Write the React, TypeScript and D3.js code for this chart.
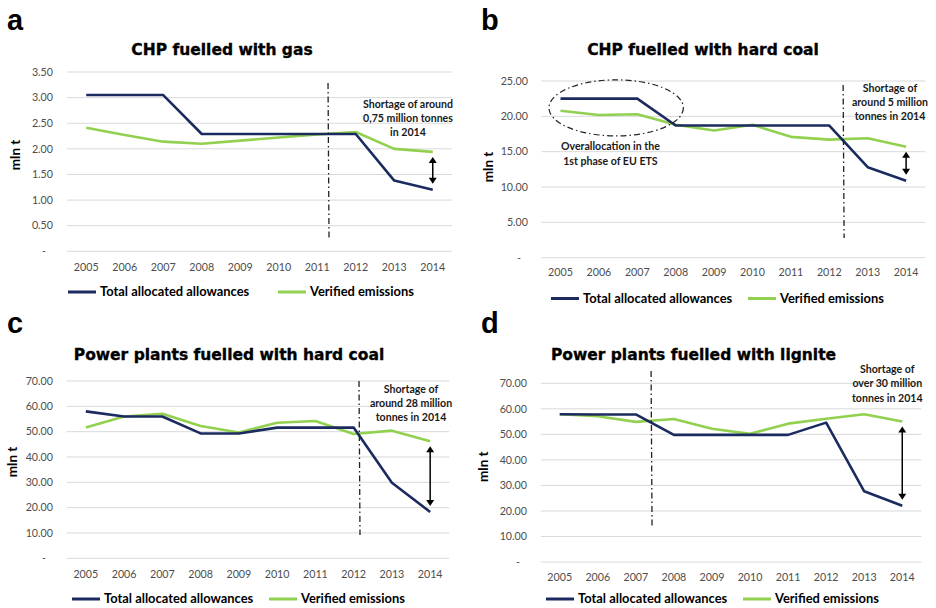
import React from 'react';
import * as d3 from 'd3';

const years = ['2005', '2006', '2007', '2008', '2009', '2010', '2011', '2012', '2013', '2014'];

const gasAllocated = [3.05, 3.05, 3.05, 2.29, 2.29, 2.29, 2.29, 2.29, 1.38, 1.2];
const gasVerified = [2.41, 2.27, 2.14, 2.1, 2.16, 2.22, 2.28, 2.33, 2.0, 1.94];
const chpCoalAllocated = [22.5, 22.5, 22.5, 18.7, 18.7, 18.7, 18.7, 18.7, 12.8, 10.9];
const chpCoalVerified = [20.8, 20.2, 20.3, 18.8, 18.0, 18.8, 17.1, 16.7, 16.9, 15.7];
const ppCoalAllocated = [58.0, 56.0, 56.0, 49.3, 49.3, 51.6, 51.6, 51.6, 29.8, 18.3];
const ppCoalVerified = [51.6, 56.0, 57.1, 52.2, 49.7, 53.5, 54.2, 49.1, 50.4, 46.2];
const ligniteAllocated = [57.9, 57.8, 57.8, 49.8, 49.8, 49.8, 49.8, 54.6, 27.7, 22.0];
const ligniteVerified = [57.9, 57.1, 54.9, 56.0, 52.2, 50.2, 54.2, 56.1, 57.9, 55.0];

const seriesNames = ['Total allocated allowances', 'Verified emissions'];
const panelTitles = [
  'CHP fuelled with gas',
  'CHP fuelled with hard coal',
  'Power plants fuelled with hard coal',
  'Power plants fuelled with lignite',
];
const panelLetters = ['a', 'b', 'c', 'd'];
const yAxisTitle = 'mln t';
const annotations = [
  ['Shortage of around', '0,75 million tonnes', 'in 2014'],
  ['Shortage of', 'around 5 million', 'tonnes in 2014'],
  ['Shortage of', 'around 28 million', 'tonnes in 2014'],
  ['Shortage of', 'over 30 million', 'tonnes in 2014'],
];
const overallocationText = ['Overallocation in the', '1st phase of EU ETS'];
// phase marker position: year index + fraction of a band
const markerYearIdx = [6, 7, 7, 2];
const markerFrac = [0.28, 0.36, 0.14, 0.4];
const yMaxes = [3.5, 25, 70, 70];
const ySteps = [0.5, 5, 10, 10];

const BLUE = '#1c2b5f';
const GREEN = '#92d050';
const GRID = '#d9d9d9';
const TICK = '#4d4d4d';
const CAL = 'Lato, "Open Sans", sans-serif';

const layouts = [
  { lx: 7, ly: 30, tx: 222, ty: 54.5, x0: 67, x1: 452, yTop: 72, yBot: 251.3, tickR: 53, xlY: 270.5, ylX: 15, ylY: 155, legY: 292, legB: 68, legG: 278, mTop: 83, mBot: 240, ax: 408, ay: 104 },
  { lx: 481, ly: 30, tx: 703, ty: 54.5, x0: 541.3, x1: 925.3, yTop: 81, yBot: 257.7, tickR: 528, xlY: 276, ylX: 488, ylY: 167, legY: 298.5, legB: 551, legG: 748, mTop: 85, mBot: 238, ax: 890, ay: 88 },
  { lx: 7, ly: 333, tx: 229, ty: 359.5, x0: 66.7, x1: 449.3, yTop: 381, yBot: 558.3, tickR: 53, xlY: 578, ylX: 12, ylY: 462, legY: 599, legB: 72, legG: 269, mTop: 381, mBot: 535, ax: 411, ay: 389 },
  { lx: 481, ly: 333, tx: 693.5, ty: 359.5, x0: 540.7, x1: 921.3, yTop: 383.3, yBot: 562, tickR: 527, xlY: 581.3, ylX: 483, ylY: 466.7, legY: 599, legB: 546, legG: 743, mTop: 371, mBot: 528, ax: 887.3, ay: 369.3 },
];

const allocatedSets = [gasAllocated, chpCoalAllocated, ppCoalAllocated, ligniteAllocated];
const verifiedSets = [gasVerified, chpCoalVerified, ppCoalVerified, ligniteVerified];

function Arrow({ x, y1, y2 }: { x: number; y1: number; y2: number }) {
  const h = 6, w = 4;
  return (
    <g>
      <line x1={x} x2={x} y1={y1 + h - 1} y2={y2 - h + 1} stroke="#000" strokeWidth={1.5} />
      <path d={`M${x},${y1} L${x - w},${y1 + h} L${x + w},${y1 + h} Z`} fill="#000" />
      <path d={`M${x},${y2} L${x - w},${y2 - h} L${x + w},${y2 - h} Z`} fill="#000" />
    </g>
  );
}

function Panel({ i }: { i: number }) {
  const L = layouts[i];
  const alloc = allocatedSets[i];
  const ver = verifiedSets[i];
  const x = d3.scaleBand<string>().domain(years).range([L.x0, L.x1]).padding(0);
  const bw = x.bandwidth();
  const cx = (yr: string) => (x(yr) as number) + bw / 2;
  const y = d3.scaleLinear().domain([0, yMaxes[i]]).range([L.yBot, L.yTop]);
  const ticks = d3.range(0, yMaxes[i] + ySteps[i] / 2, ySteps[i]);
  const line = d3
    .line<number>()
    .x((_, k) => cx(years[k]))
    .y((v) => y(v))
    .curve(d3.curveLinear);
  const mx = cx(years[markerYearIdx[i]]) + markerFrac[i] * bw;
  const last = years.length - 1;
  const arrowX = cx(years[last]);
  return (
    <g>
      <text x={L.lx} y={L.ly} fontFamily="'Liberation Sans', Arial, sans-serif" fontWeight="bold" fontSize={29} fill="#000">
        {panelLetters[i]}
      </text>
      <text
        x={L.tx}
        y={L.ty}
        textAnchor="middle"
        fontFamily="'DejaVu Sans', sans-serif"
        fontWeight="bold"
        fontSize={15.5}
        fill="#000"
        stroke="#000"
        strokeWidth={0.35}
      >
        {panelTitles[i]}
      </text>
      {ticks.map((t) => (
        <g key={t}>
          <line x1={L.x0} x2={L.x1} y1={y(t)} y2={y(t)} stroke={GRID} strokeWidth={1} />
          <text
            x={t === 0 ? L.tickR - 7 : L.tickR}
            y={y(t) + 3.8}
            textAnchor="end"
            fontFamily={CAL}
            fontSize={10.7}
            fill={TICK}
          >
            {t === 0 ? '-' : t.toFixed(2)}
          </text>
        </g>
      ))}
      {years.map((yr) => (
        <text key={yr} x={cx(yr)} y={L.xlY} textAnchor="middle" fontFamily={CAL} fontSize={10.7} fill={TICK}>
          {yr}
        </text>
      ))}
      <text
        transform={`translate(${L.ylX + 4.5},${L.ylY}) rotate(-90)`}
        textAnchor="middle"
        fontFamily={CAL}
        fontWeight="bold"
        fontSize={13.5}
        fill="#000"
      >
        {yAxisTitle}
      </text>
      <path d={line(ver) || ''} fill="none" stroke={GREEN} strokeWidth={2.6} strokeLinejoin="round" />
      <path d={line(alloc) || ''} fill="none" stroke={BLUE} strokeWidth={2.6} strokeLinejoin="round" />
      <line x1={mx} x2={mx + 1} y1={L.mTop} y2={L.mBot} stroke="#222" strokeWidth={1.3} strokeDasharray="6,3,1.5,3" />
      {annotations[i].map((s, k) => (
        <text key={k} x={L.ax} y={L.ay + k * 14.3 + 3.6} textAnchor="middle" fontFamily={CAL} fontWeight="bold" fontSize={10.6} fill="#1a1a1a">
          {s}
        </text>
      ))}
      <Arrow x={arrowX} y1={y(ver[last]) + 5} y2={y(alloc[last]) - 6} />
      {i === 1 && (
        <g>
          <ellipse
            cx={cx(years[1]) + 0.45 * bw}
            cy={y(21.2)}
            rx={1.75 * bw}
            ry={28}
            fill="none"
            stroke="#222"
            strokeWidth={1.2}
            strokeDasharray="6,3,1.5,3"
          />
          {overallocationText.map((s, k) => (
            <text
              key={k}
              x={cx(years[1]) + 0.3 * bw}
              y={y(21.2) + 39 + k * 14.3 + 3.6}
              textAnchor="middle"
              fontFamily={CAL}
              fontWeight="bold"
              fontSize={10.6}
              fill="#1a1a1a"
            >
              {s}
            </text>
          ))}
        </g>
      )}
      <line x1={L.legB} x2={L.legB + 28} y1={L.legY} y2={L.legY} stroke={BLUE} strokeWidth={3} />
      <text x={L.legB + 32} y={L.legY + 4.4} fontFamily={CAL} fontWeight="bold" fontSize={12.9} fill="#000">
        {seriesNames[0]}
      </text>
      <line x1={L.legG} x2={L.legG + 28} y1={L.legY} y2={L.legY} stroke={GREEN} strokeWidth={3} />
      <text x={L.legG + 32} y={L.legY + 4.4} fontFamily={CAL} fontWeight="bold" fontSize={12.9} fill="#000">
        {seriesNames[1]}
      </text>
    </g>
  );
}

export default function App() {
  return (
    <svg
      width={936}
      height={608}
      viewBox="0 0 936 608"
      style={{ position: 'absolute', left: 0, top: 0, background: '#fff' }}
    >
      <rect x={0} y={0} width={936} height={608} fill="#fff" />
      {[0, 1, 2, 3].map((i) => (
        <Panel key={i} i={i} />
      ))}
    </svg>
  );
}
